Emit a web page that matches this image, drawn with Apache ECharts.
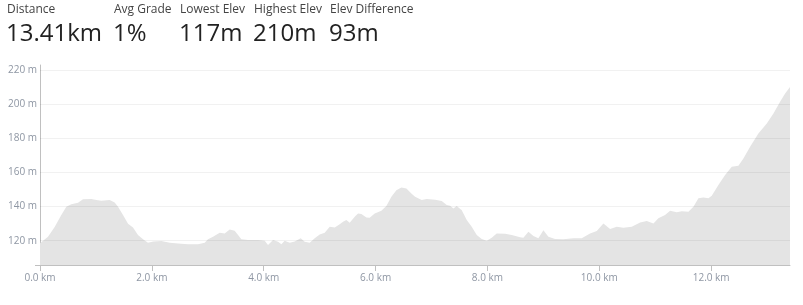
<!DOCTYPE html>
<html>
<head>
<meta charset="utf-8">
<script src="https://cdn.jsdelivr.net/npm/echarts@6/dist/echarts.min.js"></script>
<style>
  html, body { margin: 0; padding: 0; background: #fff; }
  #chart { width: 803px; height: 305px; }
</style>
</head>
<body>
<div id="chart"></div>
<script>
// Summary header
const statLabels = ['Distance', 'Avg Grade', 'Lowest Elev', 'Highest Elev', 'Elev Difference'];
const statValues = ['13.41km', '1%', '117m', '210m', '93m'];

// Axis ticks
const yTickValues = [120, 140, 160, 180, 200, 220];
const xTickStep = 2;

// Elevation profile
const distKm = [0.0, 0.143, 0.262, 0.381, 0.471, 0.560, 0.680, 0.769, 0.918, 1.007, 1.097, 1.246, 1.335, 1.395, 1.484, 1.574, 1.663, 1.752, 1.842, 1.931,
  2.021, 2.170, 2.319, 2.468, 2.647, 2.825, 2.945, 3.004, 3.094, 3.213, 3.302, 3.392, 3.481, 3.541, 3.600, 3.720, 3.898, 4.018, 4.077, 4.167,
  4.256, 4.316, 4.375, 4.465, 4.554, 4.661, 4.733, 4.822, 4.912, 5.001, 5.091, 5.180, 5.270, 5.359, 5.418, 5.478, 5.538, 5.627, 5.687, 5.746,
  5.836, 5.895, 5.985, 6.104, 6.193, 6.283, 6.372, 6.462, 6.551, 6.640, 6.706, 6.825, 6.915, 7.064, 7.183, 7.272, 7.332, 7.391, 7.451, 7.541,
  7.630, 7.719, 7.809, 7.898, 7.988, 8.077, 8.166, 8.315, 8.435, 8.584, 8.643, 8.733, 8.822, 8.911, 9.001, 9.090, 9.210, 9.358, 9.537, 9.686,
  9.835, 9.955, 10.074, 10.193, 10.312, 10.431, 10.581, 10.730, 10.849, 10.968, 11.057, 11.176, 11.266, 11.385, 11.475, 11.594, 11.683, 11.773, 11.862, 11.952,
  12.011, 12.130, 12.250, 12.369, 12.488, 12.577, 12.697, 12.845, 12.995, 13.114, 13.233, 13.323, 13.41];
const elevM = [118.5, 122.3, 128, 135, 139.9, 141.4, 142.2, 144.2, 144.4, 143.8, 143.4, 143.8, 142.4, 139.9, 135, 130, 127.8, 123.3, 120.8, 118.8,
  119.6, 119.8, 118.8, 118.4, 118, 118, 118.8, 120.8, 122.3, 124.7, 124.3, 126.6, 125.8, 123.3, 120.8, 120.4, 120.4, 120, 117.5, 120.4,
  119.4, 118, 120, 118.8, 119.6, 121.4, 119.4, 118.8, 121.4, 123.7, 124.7, 128.2, 127.8, 129.7, 131.1, 132.1, 130.5, 134, 136, 135.6,
  133.6, 133.4, 136, 137.5, 140.3, 145.7, 149.6, 151.2, 150.6, 147.7, 145.7, 143.8, 144.4, 144, 143.2, 140.9, 140.5, 138.9, 140.3, 137.9,
  132.1, 128.2, 123.3, 121, 120, 121.8, 124.3, 124.1, 123.3, 122.1, 121.8, 125.3, 122.7, 121.4, 126.2, 122.3, 121, 120.8, 121.4, 121.4,
  124.3, 125.7, 130.1, 126.8, 128.2, 127.6, 128.2, 130.7, 131.5, 130.1, 133.1, 135, 137.5, 136.6, 137.3, 137, 139.9, 144.8, 145.3, 144.8,
  146.3, 152.6, 158.4, 163.3, 163.9, 168.1, 175, 182.8, 188.6, 194.5, 201.3, 206.2, 210];

const yMin = 105.8, yMax = 222.8;
const xMax = distKm[distKm.length - 1];

const chart = echarts.init(document.getElementById('chart'), null, { renderer: 'canvas' });

const graphics = [];
const colX = [7, 114, 180, 254, 330];
statLabels.forEach((s, i) => {
  graphics.push({ type: 'text', left: colX[i], top: 4,
    style: { text: s, font: '12px "Open Sans", sans-serif', fill: '#444' } });
  graphics.push({ type: 'text', left: colX[i] - 1, top: 22,
    style: { text: statValues[i], font: '24px "Open Sans", sans-serif', fill: '#222' } });
});

chart.setOption({
  animation: false,
  backgroundColor: '#fff',
  textStyle: { fontFamily: '"Open Sans", sans-serif' },
  graphic: graphics,
  grid: { left: 40, right: 13, top: 65, bottom: 40, containLabel: false },
  xAxis: {
    type: 'value', min: 0, max: xMax, interval: xTickStep,
    axisLine: { show: true, lineStyle: { color: '#c0c0c0', width: 1 } },
    axisTick: { show: true, length: 6, lineStyle: { color: '#c0c0c0' } },
    axisLabel: { color: '#8e96a3', fontSize: 10, margin: 8, showMaxLabel: false,
      formatter: v => v.toFixed(1) + ' km' },
    splitLine: { show: false }
  },
  yAxis: {
    type: 'value', min: yMin, max: yMax,
    axisLine: { show: true, lineStyle: { color: '#c0c0c0', width: 1 } },
    axisTick: { show: true, length: 5, customValues: [yMin], lineStyle: { color: '#c0c0c0' } },
    axisLabel: { color: '#8e96a3', fontSize: 10, margin: 3, customValues: yTickValues,
      formatter: v => v + ' m' },
    splitLine: { show: false }
  },
  series: [{
    type: 'line',
    data: distKm.map((d, i) => [d, elevM[i]]),
    showSymbol: false,
    symbol: 'none',
    lineStyle: { width: 0 },
    areaStyle: { color: '#e4e4e4', opacity: 1 },
    silent: true,
    markLine: {
      silent: true, symbol: 'none', label: { show: false },
      lineStyle: { color: 'rgba(0,0,0,0.055)', width: 1, type: 'solid' },
      data: yTickValues.map(v => ({ yAxis: v }))
    }
  }]
});
</script>
</body>
</html>
